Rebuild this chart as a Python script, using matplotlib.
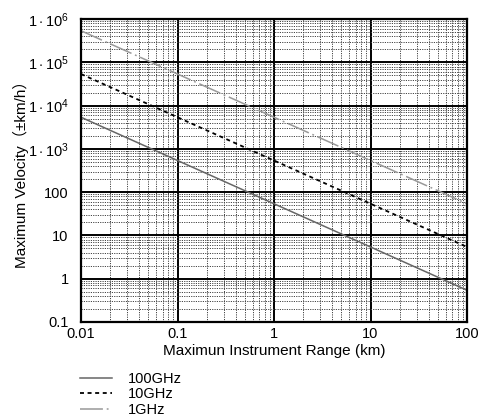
import matplotlib
matplotlib.use("Agg")
import matplotlib.pyplot as plt
from matplotlib.ticker import LogLocator, FixedLocator, NullFormatter

plt.rcParams['font.family'] = ['Liberation Sans', 'Noto Sans CJK JP']
plt.rcParams['mathtext.fontset'] = 'custom'
plt.rcParams['mathtext.rm'] = 'Liberation Sans'
plt.rcParams['mathtext.it'] = 'Liberation Sans'

# range end points (km) and max velocity (km/h) for each carrier frequency
range_km = [0.01, 100]
v_100ghz = [5400, 0.54]
v_10ghz = [54000, 5.4]
v_1ghz = [540000, 54]

x_ticks = [0.01, 0.1, 1, 10, 100]
x_labels = ["0.01", "0.1", "1", "10", "100"]
y_ticks = [0.1, 1, 10, 100, 1e3, 1e4, 1e5, 1e6]
y_labels = ["0.1", "1", "10", "100", r"$\mathrm{1\cdot 10^{3}}$", r"$\mathrm{1\cdot 10^{4}}$",
            r"$\mathrm{1\cdot 10^{5}}$", r"$\mathrm{1\cdot 10^{6}}$"]

fig = plt.figure(figsize=(4.88, 4.17), dpi=100)
ax = fig.add_axes([0.166, 0.228, 0.791, 0.726])

l1, = ax.plot(range_km, v_100ghz, color="#666666", lw=1.1, label="100GHz")
l2, = ax.plot(range_km, v_10ghz, color="black", lw=1.3, dashes=(2.2, 2), label="10GHz")
l3, = ax.plot(range_km, v_1ghz, color="#999999", lw=1.1, dashes=(15, 2.5, 1.2, 2.5), label="1GHz")

ax.set_xscale("log")
ax.set_yscale("log")
ax.set_xlim(0.01, 100)
ax.set_ylim(0.1, 1e6)

ax.xaxis.set_major_locator(FixedLocator(x_ticks))
ax.set_xticklabels(x_labels)
ax.yaxis.set_major_locator(FixedLocator(y_ticks))
ax.set_yticklabels(y_labels)
ax.xaxis.set_minor_locator(LogLocator(base=10, subs=range(2, 10), numticks=20))
ax.yaxis.set_minor_locator(LogLocator(base=10, subs=range(2, 10), numticks=20))
ax.xaxis.set_minor_formatter(NullFormatter())
ax.yaxis.set_minor_formatter(NullFormatter())

ax.grid(which="major", color="black", lw=1.4, ls="-")
ax.grid(which="minor", color="#444444", lw=0.7, ls=(0, (1.2, 1.2)))
ax.set_axisbelow(True)
ax.tick_params(which="both", length=0, labelsize=10.5, colors="black")
ax.tick_params(axis="x", pad=4)
ax.tick_params(axis="y", pad=9)
for s in ax.spines.values():
    s.set_linewidth(1.6)

ax.set_xlabel("Maximun Instrument Range (km)", fontsize=11)
ax.set_ylabel("Maximum Velocity（±km/h）", fontsize=11)
ax.xaxis.set_label_coords(0.5, -0.072)
ax.yaxis.set_label_coords(-0.135, 0.5)

fig.legend(handles=[l1, l2, l3], loc="upper left", bbox_to_anchor=(0.164, 0.108),
           frameon=False, fontsize=10.5, handlelength=2.2, handletextpad=1.1,
           labelspacing=0.1, borderaxespad=0, borderpad=0)

fig.savefig("out.png", dpi=100)
